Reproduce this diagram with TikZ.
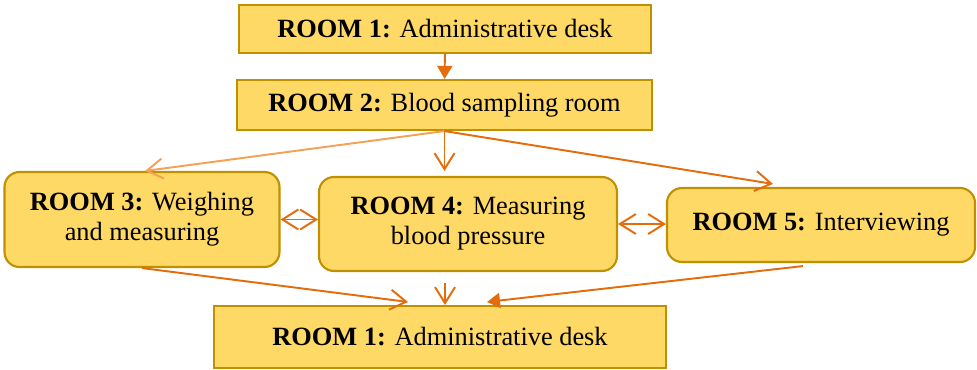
\documentclass[tikz,border=0pt]{standalone}
\usepackage{fontspec}
\setmainfont{Liberation Serif}
\usetikzlibrary{arrows.meta, positioning, calc}

\definecolor{roomfill}{HTML}{FFD966}
\definecolor{roomline}{HTML}{BF9000}
\definecolor{flowc}{HTML}{E46C0A}
\definecolor{flowlight}{HTML}{F4A055}

\begin{document}
\begin{tikzpicture}[x=0.2mm, y=-0.2mm,
  room/.style={rectangle, draw=roomline, fill=roomfill, line width=1.2pt,
               align=center, inner sep=0pt,
               font=\fontsize{15}{17}\selectfont},
  cab/.style={room, rounded corners=3mm},
  flow/.style={draw=flowc, line width=1.1pt,
               -{Straight Barb[length=3.2mm,width=4mm]}},
  both/.style={draw=flowc, line width=1.1pt,
               {Straight Barb[length=3.2mm,width=4mm]}-{Straight Barb[length=3.2mm,width=4mm]}},
  solid tip/.style={draw=flowc, line width=1.1pt,
               -{Triangle[length=2.6mm,width=3mm]}},
]
\useasboundingbox (0,0) rectangle (977,370);

\node[room, minimum width=82.4mm, minimum height=9.6mm] (adm) at (445,29)
  {\textbf{ROOM 1:} Administrative desk};
\node[room, minimum width=83mm, minimum height=10mm] (blood) at (444.5,105)
  {\textbf{ROOM 2:} Blood sampling room};

\node[cab, minimum width=55mm, minimum height=19mm] (weigh) at (142,219.5)
  {\textbf{ROOM 3:} Weighing\\and measuring};
\node[cab, minimum width=59.6mm, minimum height=18.8mm] (bp) at (468,224)
  {\textbf{ROOM 4:} Measuring\\blood pressure};
\node[cab, minimum width=61.6mm, minimum height=14.8mm] (interview) at (821,225)
  {\textbf{ROOM 5:} Interviewing};

\node[room, minimum width=90.4mm, minimum height=12.4mm] (admout) at (440,337)
  {\textbf{ROOM 1:} Administrative desk};

% ---- flow out of room 2 ----
\draw[solid tip] (adm) -- (blood);
\draw[flow, draw=flowlight] (blood.south) -- ($(weigh.north)+(3,0)$);
\draw[flow] (blood.south) -- ($(blood.south |- bp.north)+(0,-5)$);
\draw[flow] (blood.south) -- ($(interview.north)+(-48,-3)$);

% ---- between the rooms ----
\draw[both] (weigh.east) -- (weigh.east -| bp.west);
\draw[both] (bp.east) -- (bp.east -| interview.west);

% ---- back to room 1 ----
\coordinate (bpout) at ($(bp.south)+(-23,11)$);
\draw[flow] (weigh.south) -- ($(admout.north)+(-32,-3)$);
\draw[flow] (bpout) -- (bpout |- admout.north);
\draw[solid tip] ($(interview.south)+(-18,3)$) -- ($(admout.north)+(47,-3)$);
\end{tikzpicture}
\end{document}
